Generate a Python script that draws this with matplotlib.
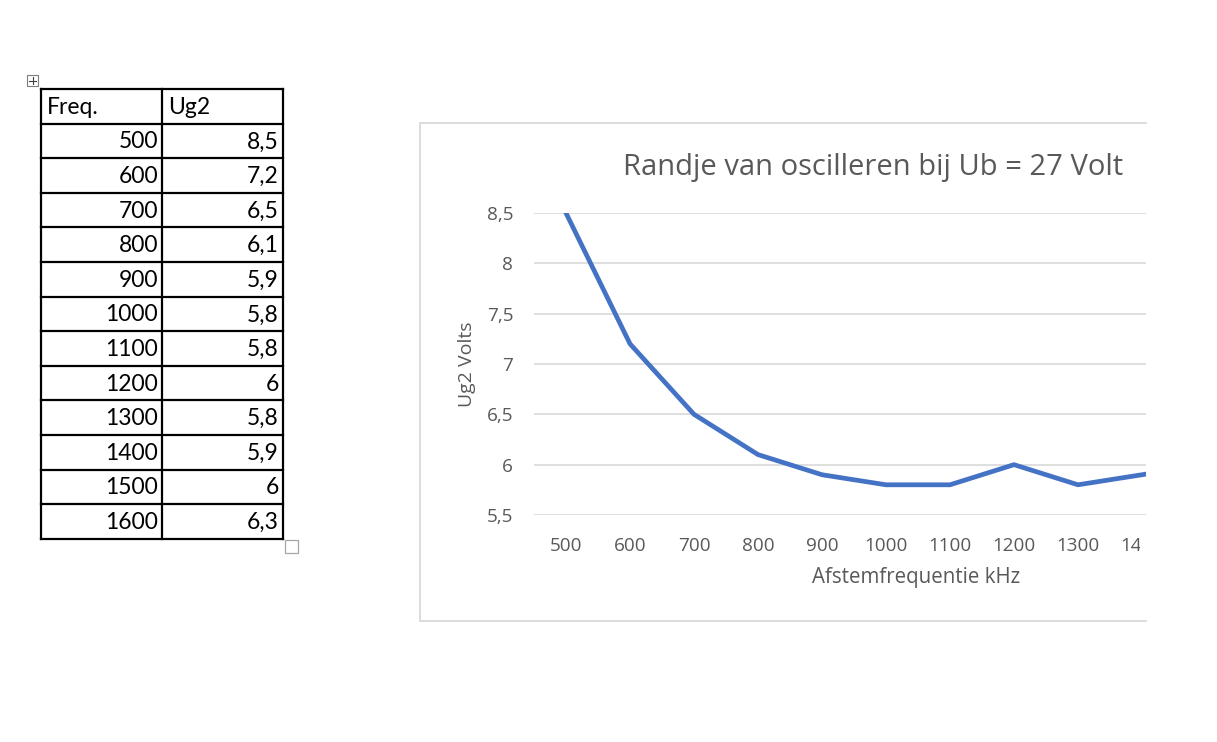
import matplotlib
matplotlib.use("Agg")
import matplotlib.pyplot as plt
from matplotlib.patches import Rectangle
from matplotlib.transforms import Bbox, TransformedBbox

# ---- data ----
freqs = [500, 600, 700, 800, 900, 1000, 1100, 1200, 1300, 1400, 1500, 1600]
ug2 = [8.5, 7.2, 6.5, 6.1, 5.9, 5.8, 5.8, 6.0, 5.8, 5.9, 6.0, 6.3]
table_headers = ["Freq.", "Ug2"]
yticks = [5.5, 6.0, 6.5, 7.0, 7.5, 8.0, 8.5]
title = "Randje van oscilleren bij Ub = 27 Volt"
xlabel = "Afstemfrequentie kHz"
ylabel = "Ug2 Volts"

def nl(v):
    s = ("%g" % v)
    return s.replace(".", ",")

plt.rcParams['font.family'] = ['Lato', 'DejaVu Sans']
CH = ['Open Sans', 'DejaVu Sans']
W, H = 1217, 742
fig = plt.figure(figsize=(W / 100, H / 100), dpi=100)
fig.patch.set_facecolor("white")

GRAY = "#595959"
GRID = "#d9d9d9"

# ---- chart axes (right part cut off by the page edge at x=1146) ----
x0, cat_w, x_edge = 534, 64, 1146
y_top, y_bot = 213, 515
n = len(freqs)
ax = fig.add_axes([x0 / W, (H - y_bot) / H, (x_edge - x0) / W, (y_bot - y_top) / H])
xs = list(range(n))
ax.plot(xs, ug2, color="#4472C4", lw=3.4, solid_joinstyle="round", zorder=3)
ax.set_xlim(-0.5, -0.5 + (x_edge - x0) / cat_w)
ax.set_ylim(yticks[0], yticks[-1])
ax.set_yticks(yticks)
ax.set_yticklabels([nl(v) for v in yticks], family=CH)
vis = [i for i in xs if i <= (x_edge - x0) / cat_w - 0.5]
ax.set_xticks(vis)
ax.set_xticklabels([str(freqs[i]) for i in vis], family=CH)
ax.tick_params(length=0, labelsize=13.6, colors=GRAY)
ax.tick_params(axis="y", pad=15)
ax.tick_params(axis="x", pad=15.5)
for s in ["top", "right", "left", "bottom"]:
    ax.spines[s].set_visible(False)
ax.grid(axis="y", color=GRID, lw=1.2)
ax.set_axisbelow(True)
ax.patch.set_alpha(0)

# text labels are cut a little before the plot edge
clipbox = TransformedBbox(Bbox([[0, 0], [1140 / W, 1]]), fig.transFigure)
for lbl in ax.get_xticklabels():
    lbl.set_clip_box(clipbox)
    lbl.set_clip_on(True)

# ---- overlay in pixel coordinates ----
ov = fig.add_axes([0, 0, 1, 1], zorder=5)
ov.set_xlim(0, W)
ov.set_ylim(H, 0)
ov.axis("off")
ov.patch.set_alpha(0)

# chart frame (left, top, bottom visible)
ov.plot([x_edge, 420, 420, x_edge], [123, 123, 621, 621], color=GRID, lw=1.3, zorder=2)

ov.text(873, 167, title, ha="center", va="center", fontsize=21, color=GRAY, zorder=3, family=CH)
ov.text(916, 578, xlabel, ha="center", va="center", fontsize=14.8, color=GRAY, zorder=3, family=CH)
ov.text(467, 364, ylabel, ha="center", va="center", rotation=90, fontsize=14, color=GRAY, zorder=3, family=CH)

# ---- table ----
tl, tm, tr = 41, 162, 283
ttop, row_h = 89, 34.6
nrows = n + 1
tbot = ttop + nrows * row_h
for i in range(nrows + 1):
    yy = ttop + i * row_h
    ov.plot([tl, tr], [yy, yy], color="black", lw=1.6, zorder=3, solid_capstyle="projecting")
for xx in (tl, tm, tr):
    ov.plot([xx, xx], [ttop, tbot], color="black", lw=1.6, zorder=3, solid_capstyle="projecting")

fs_t = 16.5
ov.text(tl + 6, ttop + row_h / 2 + 1, table_headers[0], ha="left", va="center", fontsize=fs_t, color="black", zorder=4)
ov.text(tm + 6, ttop + row_h / 2 + 1, table_headers[1], ha="left", va="center", fontsize=fs_t, color="black", zorder=4)
for i, (f, v) in enumerate(zip(freqs, ug2)):
    yc = ttop + (i + 1.5) * row_h + 1
    ov.text(tm - 4, yc, str(f), ha="right", va="center", fontsize=fs_t, color="black", zorder=4)
    ov.text(tr - 4, yc, nl(v), ha="right", va="center", fontsize=fs_t, color="black", zorder=4)

# table handles
ov.add_patch(Rectangle((27, 75), 11, 11, facecolor="white", edgecolor="#7f7f7f", lw=0.8, zorder=4))
ov.plot([29, 36], [80.5, 80.5], color="#404040", lw=0.8, zorder=5)
ov.plot([32.5, 32.5], [77, 84], color="#404040", lw=0.8, zorder=5)
ov.add_patch(Rectangle((285, 540), 13, 13, facecolor="white", edgecolor="#a6a6a6", lw=0.9, zorder=4))

fig.savefig("out.png", dpi=100, facecolor="white")
